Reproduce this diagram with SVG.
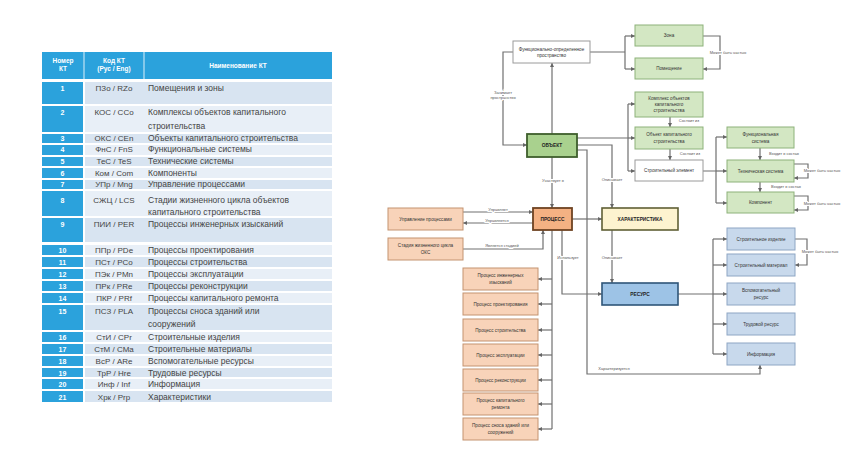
<svg xmlns="http://www.w3.org/2000/svg" width="848" height="450" viewBox="0 0 848 450">
<defs>
<marker id="ah" viewBox="0 0 6 6" refX="6" refY="3" markerWidth="4" markerHeight="4" markerUnits="userSpaceOnUse" orient="auto"><path d="M0,0 L6,3 L0,6 z" fill="#666"/></marker>
<style>
.th{font-family:"Liberation Sans",Arial,sans-serif;font-size:6.5px;fill:#fff;font-weight:bold;text-anchor:middle}
.num{font-family:"Liberation Sans",Arial,sans-serif;font-size:7px;fill:#fff;font-weight:bold;text-anchor:middle}
.cd{font-family:"Liberation Sans",Arial,sans-serif;font-size:8px;fill:#444;text-anchor:middle}
.nm{font-family:"Liberation Sans",Arial,sans-serif;font-size:8.5px;fill:#444}
.hb{fill:#2ba2dc}
.ra{fill:#d8e4f1}
.rb{fill:#e8eff7}
.bt{font-family:"Liberation Sans",Arial,sans-serif;font-size:4.6px;fill:#333;text-anchor:middle}
.bb{font-family:"Liberation Sans",Arial,sans-serif;font-size:4.8px;fill:#222;text-anchor:middle;font-weight:bold}
.lb{font-family:"Liberation Sans",Arial,sans-serif;font-size:4px;fill:#555;text-anchor:middle;stroke:#fff;stroke-width:2.2px;paint-order:stroke}
.g{fill:#d3e7c3;stroke:#8db27a;stroke-width:1}
.gd{fill:#a9d18e;stroke:#3e5e2c;stroke-width:1.8}
.w{fill:#fff;stroke:#9a9a9a;stroke-width:1}
.o{fill:#f8d3b9;stroke:#c49370;stroke-width:1}
.od{fill:#f4b183;stroke:#6e4322;stroke-width:1.8}
.y{fill:#fdf3cf;stroke:#5f5f35;stroke-width:1.6}
.bd{fill:#9dc3e6;stroke:#2f5578;stroke-width:1.6}
.bl{fill:#c8d9ec;stroke:#8ea6c4;stroke-width:1}
.c{fill:none;stroke:#707070;stroke-width:1.2}
.ca{fill:none;stroke:#707070;stroke-width:1.2;marker-end:url(#ah)}
</style>
</defs>
<rect width="848" height="450" fill="#fff"/>

<g id="table">
<rect x="42" y="52" width="290" height="27" class="hb"/>
<line x1="84" y1="52" x2="84" y2="79" stroke="#fff" stroke-width="1.2" opacity="0.7"/>
<line x1="144" y1="52" x2="144" y2="79" stroke="#fff" stroke-width="1.2" opacity="0.7"/>
<text class="th" x="63" y="63">Номер</text><text class="th" x="63" y="71">КТ</text>
<text class="th" x="114" y="63">Код КТ</text><text class="th" x="114" y="71">(Рус / Eng)</text>
<text class="th" x="238" y="68">Наименование КТ</text>

<rect x="42" y="82" width="41" height="22" class="hb"/><rect x="85" y="82" width="247" height="22" class="ra"/>
<text class="num" x="62.5" y="90.5">1</text><text class="cd" x="114" y="90.5">ПЗо / RZo</text><text class="nm" x="148" y="90.5">Помещения и зоны</text>
<rect x="42" y="106" width="41" height="26" class="hb"/><rect x="85" y="106" width="247" height="26" class="rb"/>
<text class="num" x="62.5" y="114.5">2</text><text class="cd" x="114" y="114.5">КОС / CCo</text><text class="nm" x="148" y="114.5">Комплексы объектов капитального</text><text class="nm" x="148" y="128.5">строительства</text>
<rect x="42" y="134" width="41" height="9" class="hb"/><rect x="85" y="134" width="247" height="9" class="ra"/>
<text class="num" x="62.5" y="140.5">3</text><text class="cd" x="114" y="140.5">ОКС / CEn</text><text class="nm" x="148" y="140.5">Объекты капитального строительства</text>
<rect x="42" y="145" width="41" height="10" class="hb"/><rect x="85" y="145" width="247" height="10" class="rb"/>
<text class="num" x="62.5" y="152">4</text><text class="cd" x="114" y="152">ФнС / FnS</text><text class="nm" x="148" y="152">Функциональные системы</text>
<rect x="42" y="157" width="41" height="9" class="hb"/><rect x="85" y="157" width="247" height="9" class="ra"/>
<text class="num" x="62.5" y="163.5">5</text><text class="cd" x="114" y="163.5">ТеС / TeS</text><text class="nm" x="148" y="163.5">Технические системы</text>
<rect x="42" y="168" width="41" height="10" class="hb"/><rect x="85" y="168" width="247" height="10" class="rb"/>
<text class="num" x="62.5" y="175.5">6</text><text class="cd" x="114" y="175.5">Ком / Com</text><text class="nm" x="148" y="175.5">Компоненты</text>
<rect x="42" y="180" width="41" height="9" class="hb"/><rect x="85" y="180" width="247" height="9" class="ra"/>
<text class="num" x="62.5" y="187">7</text><text class="cd" x="114" y="187">УПр / Mng</text><text class="nm" x="148" y="187">Управление процессами</text>
<rect x="42" y="191" width="41" height="25" class="hb"/><rect x="85" y="191" width="247" height="25" class="rb"/>
<text class="num" x="62.5" y="202.5">8</text><text class="cd" x="114" y="202.5">СЖЦ / LCS</text><text class="nm" x="148" y="202.5">Стадии жизненного цикла объектов</text><text class="nm" x="148" y="214.5">капитального строительства</text>
<rect x="42" y="218" width="41" height="24" class="hb"/><rect x="85" y="218" width="247" height="24" class="ra"/>
<text class="num" x="62.5" y="227">9</text><text class="cd" x="114" y="227">ПИИ / PER</text><text class="nm" x="148" y="227">Процессы инженерных изысканий</text>
<rect x="42" y="245" width="41" height="10" class="hb"/><rect x="85" y="245" width="247" height="10" class="rb"/>
<text class="num" x="62.5" y="253">10</text><text class="cd" x="114" y="253">ППр / PDe</text><text class="nm" x="148" y="253">Процессы проектирования</text>
<rect x="42" y="257" width="41" height="10" class="hb"/><rect x="85" y="257" width="247" height="10" class="ra"/>
<text class="num" x="62.5" y="265">11</text><text class="cd" x="114" y="265">ПСт / PCo</text><text class="nm" x="148" y="265">Процессы строительства</text>
<rect x="42" y="269" width="41" height="10" class="hb"/><rect x="85" y="269" width="247" height="10" class="rb"/>
<text class="num" x="62.5" y="277">12</text><text class="cd" x="114" y="277">ПЭк / PMn</text><text class="nm" x="148" y="277">Процессы эксплуатации</text>
<rect x="42" y="281" width="41" height="10" class="hb"/><rect x="85" y="281" width="247" height="10" class="ra"/>
<text class="num" x="62.5" y="289">13</text><text class="cd" x="114" y="289">ПРк / PRe</text><text class="nm" x="148" y="289">Процессы реконструкции</text>
<rect x="42" y="293" width="41" height="10" class="hb"/><rect x="85" y="293" width="247" height="10" class="rb"/>
<text class="num" x="62.5" y="301">14</text><text class="cd" x="114" y="301">ПКР / PRf</text><text class="nm" x="148" y="301">Процессы капитального ремонта</text>
<rect x="42" y="305" width="41" height="25" class="hb"/><rect x="85" y="305" width="247" height="25" class="ra"/>
<text class="num" x="62.5" y="314">15</text><text class="cd" x="114" y="314">ПСЗ / PLA</text><text class="nm" x="148" y="314">Процессы сноса зданий или</text><text class="nm" x="148" y="326.5">сооружений</text>
<rect x="42" y="332" width="41" height="10" class="hb"/><rect x="85" y="332" width="247" height="10" class="rb"/>
<text class="num" x="62.5" y="340">16</text><text class="cd" x="114" y="340">СтИ / CPr</text><text class="nm" x="148" y="340">Строительные изделия</text>
<rect x="42" y="344" width="41" height="10" class="hb"/><rect x="85" y="344" width="247" height="10" class="ra"/>
<text class="num" x="62.5" y="352">17</text><text class="cd" x="114" y="352">СтМ / CMa</text><text class="nm" x="148" y="352">Строительные материалы</text>
<rect x="42" y="356" width="41" height="10" class="hb"/><rect x="85" y="356" width="247" height="10" class="rb"/>
<text class="num" x="62.5" y="364">18</text><text class="cd" x="114" y="364">ВсР / ARe</text><text class="nm" x="148" y="364">Вспомогательные ресурсы</text>
<rect x="42" y="368" width="41" height="9" class="hb"/><rect x="85" y="368" width="247" height="9" class="ra"/>
<text class="num" x="62.5" y="375.5">19</text><text class="cd" x="114" y="375.5">ТрР / Hre</text><text class="nm" x="148" y="375.5">Трудовые ресурсы</text>
<rect x="42" y="379" width="41" height="10" class="hb"/><rect x="85" y="379" width="247" height="10" class="rb"/>
<text class="num" x="62.5" y="387">20</text><text class="cd" x="114" y="387">Инф / Inf</text><text class="nm" x="148" y="387">Информация</text>
<rect x="42" y="391" width="41" height="11" class="hb"/><rect x="85" y="391" width="247" height="11" class="ra"/>
<text class="num" x="62.5" y="399.5">21</text><text class="cd" x="114" y="399.5">Хрк / Prp</text><text class="nm" x="148" y="399.5">Характеристики</text>
</g>

<g id="connectors">
<path class="c" d="M590,52 H625 M625,36 V69"/>
<path class="ca" d="M625,36 H635"/><path class="ca" d="M625,69 H635"/>
<path class="ca" d="M703,36 H720 V69 H703"/>
<path class="ca" d="M513,52 H503 V145 H527"/>
<path class="ca" d="M552,134 V63"/>
<path class="c" d="M577,138 H628 M628,104 V171"/>
<path class="ca" d="M628,104 H635"/><path class="ca" d="M628,138 H635"/><path class="ca" d="M628,171 H635"/>
<path class="ca" d="M670,117 V127"/>
<path class="ca" d="M670,149 V160"/>
<path class="c" d="M703,171 H716 M716,137 V203"/>
<path class="ca" d="M716,137 H727"/><path class="ca" d="M716,171 H727"/><path class="ca" d="M716,203 H727"/>
<path class="ca" d="M760,148 V160"/>
<path class="ca" d="M760,182 V192"/>
<path class="ca" d="M794,164 H808 V178 H794"/>
<path class="ca" d="M794,196 H808 V210 H794"/>
<path class="ca" d="M552,157 V208"/>
<path class="ca" d="M577,150 H587 V374 H760 V365"/>
<path class="ca" d="M577,145 H612 V208"/>
<path class="ca" d="M612,230 V283"/>
<path class="ca" d="M572,219 H602"/>
<path class="ca" d="M463,212 H533"/>
<path class="ca" d="M533,223 H463"/>
<path class="ca" d="M463,249 H543 V230"/>
<path class="c" d="M552,230 V429"/>
<path class="ca" d="M552,279 H538"/><path class="ca" d="M552,304 H538"/><path class="ca" d="M552,330 H538"/><path class="ca" d="M552,355 H538"/><path class="ca" d="M552,380 H538"/><path class="ca" d="M552,404 H538"/><path class="ca" d="M552,429 H538"/>
<path class="ca" d="M562,230 V294 H602"/>
<path class="c" d="M678,294 H713 M713,239 V354"/>
<path class="ca" d="M713,239 H727"/><path class="ca" d="M713,265 H727"/><path class="ca" d="M713,294 H727"/><path class="ca" d="M713,324 H727"/><path class="ca" d="M713,354 H727"/>
<path class="ca" d="M795,239 H807 V265 H795"/>
<text class="lb" x="728" y="54">Может быть частью</text>
<text class="lb" x="503" y="94">Занимает</text><text class="lb" x="503" y="99">пространство</text>
<text class="lb" x="689" y="122">Состоит из</text>
<text class="lb" x="690" y="155">Состоит из</text>
<text class="lb" x="784" y="155">Входит в состав</text>
<text class="lb" x="786" y="188">Входит в состав</text>
<text class="lb" x="822" y="172">Может быть частью</text>
<text class="lb" x="822" y="205">Может быть частью</text>
<text class="lb" x="553" y="182">Участвует в</text>
<text class="lb" x="612" y="181">Описывает</text>
<text class="lb" x="612" y="259">Описывает</text>
<text class="lb" x="498" y="211">Управляет</text>
<text class="lb" x="497" y="222">Управляется</text>
<text class="lb" x="502" y="247">Является стадией</text>
<text class="lb" x="568" y="259">Использует</text>
<text class="lb" x="614" y="370">Характеризуется</text>
<text class="lb" x="820" y="253">Может быть частью</text>
</g>

<g id="n-space"><rect class="w" x="513" y="41" width="77" height="22"/><text class="bt" x="551.5" y="50.5">Функционально-определенное</text><text class="bt" x="551.5" y="57">пространство</text></g>
<g id="n-zone"><rect class="g" x="635" y="25" width="68" height="21"/><text class="bt" x="669" y="37">Зона</text></g>
<g id="n-room"><rect class="g" x="635" y="58" width="68" height="21"/><text class="bt" x="669" y="70">Помещение</text></g>
<g id="n-object"><rect class="gd" x="527" y="134" width="50" height="23"/><text class="bb" x="552" y="147">ОБЪЕКТ</text></g>
<g id="n-complex"><rect class="g" x="635" y="92" width="68" height="25"/><text class="bt" x="669" y="100">Комплекс объектов</text><text class="bt" x="669" y="106">капитального</text><text class="bt" x="669" y="112">строительства</text></g>
<g id="n-oks"><rect class="g" x="635" y="127" width="68" height="22"/><text class="bt" x="669" y="136">Объект капитального</text><text class="bt" x="669" y="142.5">строительства</text></g>
<g id="n-element"><rect class="w" x="635" y="160" width="68" height="21"/><text class="bt" x="669" y="172">Строительный элемент</text></g>
<g id="n-fs"><rect class="g" x="727" y="127" width="67" height="21"/><text class="bt" x="760.5" y="136">Функциональная</text><text class="bt" x="760.5" y="142.5">система</text></g>
<g id="n-ts"><rect class="g" x="727" y="160" width="67" height="22"/><text class="bt" x="760.5" y="172.5">Техническая система</text></g>
<g id="n-comp"><rect class="g" x="727" y="192" width="67" height="21"/><text class="bt" x="760.5" y="204">Компонент</text></g>
<g id="n-process"><rect class="od" x="533" y="208" width="39" height="22"/><text class="bb" x="552.5" y="220.5">ПРОЦЕСС</text></g>
<g id="n-mgmt"><rect class="o" x="388" y="208" width="75" height="22"/><text class="bt" x="425.5" y="220.5">Управление процессами</text></g>
<g id="n-stage"><rect class="o" x="388" y="238" width="75" height="22"/><text class="bt" x="425.5" y="247">Стадия жизненного цикла</text><text class="bt" x="425.5" y="253.5">ОКС</text></g>
<g id="n-char"><rect class="y" x="602" y="208" width="76" height="22"/><text class="bb" x="640" y="220.5">ХАРАКТЕРИСТИКА</text></g>
<g id="n-resource"><rect class="bd" x="602" y="283" width="76" height="22"/><text class="bb" x="640" y="295.5">РЕСУРС</text></g>
<g id="n-p1"><rect class="o" x="463" y="268" width="75" height="22"/><text class="bt" x="500.5" y="277">Процесс инженерных</text><text class="bt" x="500.5" y="283.5">изысканий</text></g>
<g id="n-p2"><rect class="o" x="463" y="293" width="75" height="22"/><text class="bt" x="500.5" y="305.5">Процесс проектирования</text></g>
<g id="n-p3"><rect class="o" x="463" y="319" width="75" height="22"/><text class="bt" x="500.5" y="331.5">Процесс строительства</text></g>
<g id="n-p4"><rect class="o" x="463" y="344" width="75" height="22"/><text class="bt" x="500.5" y="356.5">Процесс эксплуатации</text></g>
<g id="n-p5"><rect class="o" x="463" y="369" width="75" height="22"/><text class="bt" x="500.5" y="381.5">Процесс реконструкции</text></g>
<g id="n-p6"><rect class="o" x="463" y="393" width="75" height="22"/><text class="bt" x="500.5" y="402">Процесс капитального</text><text class="bt" x="500.5" y="408.5">ремонта</text></g>
<g id="n-p7"><rect class="o" x="463" y="418" width="75" height="22"/><text class="bt" x="500.5" y="427">Процесс сноса зданий или</text><text class="bt" x="500.5" y="433.5">сооружений</text></g>
<g id="n-r1"><rect class="bl" x="727" y="228" width="68" height="22"/><text class="bt" x="761" y="240.5">Строительное изделие</text></g>
<g id="n-r2"><rect class="bl" x="727" y="254" width="68" height="22"/><text class="bt" x="761" y="266.5">Строительный материал</text></g>
<g id="n-r3"><rect class="bl" x="727" y="283" width="68" height="22"/><text class="bt" x="761" y="292">Вспомогательный</text><text class="bt" x="761" y="298.5">ресурс</text></g>
<g id="n-r4"><rect class="bl" x="727" y="313" width="68" height="22"/><text class="bt" x="761" y="325.5">Трудовой ресурс</text></g>
<g id="n-r5"><rect class="bl" x="727" y="343" width="68" height="22"/><text class="bt" x="761" y="355.5">Информация</text></g>
</svg>
